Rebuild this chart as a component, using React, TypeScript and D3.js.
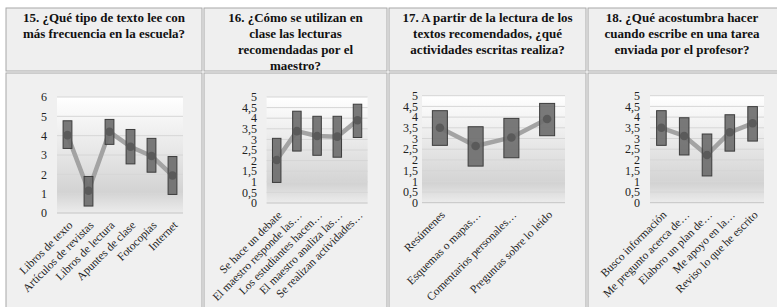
import React from 'react';
import * as d3 from 'd3';

// --- data (mean with low/high range) ---
const titles1 = ['15. ¿Qué tipo de texto lee con', 'más frecuencia en la escuela?'];
const cats1 = ['Libros de texto', 'Artículos de revistas', 'Libros de lectura', 'Apuntes de clase', 'Fotocopias', 'Internet'];
const mean1 = [4.03, 1.15, 4.2, 3.43, 2.95, 1.94];
const low1 = [3.34, 0.36, 3.55, 2.54, 2.11, 0.96];
const high1 = [4.77, 1.89, 4.84, 4.32, 3.86, 2.92];

const titles2 = ['16. ¿Cómo se utilizan en', 'clase las lecturas', 'recomendadas por el', 'maestro?'];
const cats2 = ['Se hace un debate', 'El maestro responde las…', 'Los estudiantes hacen…', 'El maestro analiza las…', 'Se realizan actividades…'];
const mean2 = [2.03, 3.39, 3.16, 3.13, 3.9];
const low2 = [0.97, 2.45, 2.25, 2.16, 3.09];
const high2 = [3.05, 4.33, 4.09, 4.09, 4.66];

const titles3 = ['17. A partir de la lectura de los', 'textos recomendados, ¿qué', 'actividades escritas realiza?'];
const cats3 = ['Resúmenes', 'Esquemas o mapas…', 'Comentarios personales…', 'Preguntas sobre lo leído'];
const mean3 = [3.5, 2.65, 3.05, 3.91];
const low3 = [2.68, 1.71, 2.1, 3.13];
const high3 = [4.3, 3.55, 3.94, 4.64];

const titles4 = ['18. ¿Qué acostumbra hacer', 'cuando escribe en una tarea', 'enviada por el profesor?'];
const cats4 = ['Busco información', 'Me pregunto acerca de…', 'Elaboro un  plan de…', 'Me apoyo en la…', 'Reviso lo que he escrito'];
const mean4 = [3.5, 3.12, 2.23, 3.29, 3.71];
const low4 = [2.68, 2.23, 1.25, 2.41, 2.88];
const high4 = [4.3, 3.97, 3.21, 4.11, 4.49];

const ticks1 = [0, 1, 2, 3, 4, 5, 6];
const ticksHalf = [0, 0.5, 1, 1.5, 2, 2.5, 3, 3.5, 4, 4.5, 5];

const colEdges = [5, 203, 388, 587, 780];
const FONT = '"Liberation Serif", "Times New Roman", serif';

interface PanelProps {
  cats: string[];
  mean: number[];
  low: number[];
  high: number[];
  ticks: number[];
  left: number;
  right: number;
  top: number;
  bottom: number;
  labelRight: number;
  id: string;
}

const Panel: React.FC<PanelProps> = ({ cats, mean, low, high, ticks, left, right, top, bottom, labelRight, id }) => {
  const x = d3.scaleBand<string>().domain(cats).range([left, right]).padding(0);
  const y = d3.scaleLinear().domain([0, d3.max(ticks) as number]).range([bottom, top]);
  const bw = x.bandwidth() * 0.42;
  const cx = (c: string) => (x(c) as number) + x.bandwidth() / 2;
  const line = d3.line<number>().x((_, i) => cx(cats[i])).y(d => y(d));
  const fmt = (v: number) => String(v).replace('.', ',');

  return (
    <g>
      <defs>
        <linearGradient id={id} x1="0" y1="0" x2="0" y2="1">
          <stop offset="0%" stopColor="#ffffff" />
          <stop offset="45%" stopColor="#e8e8e8" />
          <stop offset="82%" stopColor="#d3d3d3" />
          <stop offset="100%" stopColor="#ececec" />
        </linearGradient>
      </defs>
      <rect x={left} y={top} width={right - left} height={bottom - top} fill={`url(#${id})`} />
      {ticks.map(t => (
        <g key={t}>
          <line x1={left} x2={right} y1={y(t)} y2={y(t)} stroke={t === 0 ? '#c4c4c4' : '#d6d6d6'} strokeWidth={1} />
          <text x={labelRight} y={y(t)} dy="0.35em" textAnchor="end" fontSize={12} fill="#222">{fmt(t)}</text>
        </g>
      ))}
      <path d={line(mean) || ''} fill="none" stroke="#a3a3a3" strokeWidth={4.5} strokeLinejoin="round" />
      {cats.map((c, i) => (
        <g key={c}>
          <rect x={cx(c) - bw / 2} y={y(high[i])} width={bw} height={y(low[i]) - y(high[i])}
            fill="#6e6e6e" fillOpacity={0.92} stroke="#3c3c3c" strokeWidth={1} />
          <circle cx={cx(c)} cy={y(mean[i])} r={4.3} fill="#5a5a5a" />
        </g>
      ))}
      {cats.map(c => (
        <text key={'l' + c} transform={`translate(${cx(c) + 3},${bottom + 10}) rotate(-45)`}
          textAnchor="end" dy="0.35em" fontSize={11.5} fill="#222">{c}</text>
      ))}
    </g>
  );
};

const Header: React.FC<{ lines: string[]; x0: number; x1: number }> = ({ lines, x0, x1 }) => (
  <text x={(x0 + x1) / 2} y={22} textAnchor="middle" fontSize={13} fontWeight="bold" fill="#111">
    {lines.map((l, i) => (
      <tspan key={i} x={(x0 + x1) / 2} dy={i === 0 ? 0 : 16}>{l}</tspan>
    ))}
  </text>
);

export default function App() {
  const headerTop = 7;
  const headerBottom = 72;
  const bodyBottom = 312;
  return (
    <svg width={777} height={307} style={{ position: 'absolute', left: 0, top: 0 }} fontFamily={FONT}>
      <rect width={777} height={307} fill="#ffffff" />
      {colEdges.slice(0, -1).map((x0, i) => {
        const x1 = colEdges[i + 1];
        return (
          <g key={i}>
            <rect x={x0 + 1} y={headerTop + 1} width={x1 - x0 - 2} height={headerBottom - headerTop - 2}
              fill="#efefef" stroke="#a8a8a8" strokeWidth={1} />
            <rect x={x0 + 1} y={headerBottom + 1} width={x1 - x0 - 2} height={bodyBottom - headerBottom - 2}
              fill="#f0f0f0" stroke="#a8a8a8" strokeWidth={1} />
          </g>
        );
      })}
      <Header lines={titles1} x0={colEdges[0]} x1={colEdges[1]} />
      <Header lines={titles2} x0={colEdges[1]} x1={colEdges[2]} />
      <Header lines={titles3} x0={colEdges[2]} x1={colEdges[3]} />
      <Header lines={titles4} x0={colEdges[3]} x1={777} />
      <Panel id="g1" cats={cats1} mean={mean1} low={low1} high={high1} ticks={ticks1}
        left={57} right={183} top={97} bottom={213} labelRight={47} />
      <Panel id="g2" cats={cats2} mean={mean2} low={low2} high={high2} ticks={ticksHalf}
        left={266.6} right={367.6} top={97} bottom={203} labelRight={257} />
      <Panel id="g3" cats={cats3} mean={mean3} low={low3} high={high3} ticks={ticksHalf}
        left={422} right={565} top={95.7} bottom={202.7} labelRight={418} />
      <Panel id="g4" cats={cats4} mean={mean4} low={low4} high={high4} ticks={ticksHalf}
        left={650} right={764} top={95.7} bottom={202.7} labelRight={640} />
    </svg>
  );
}
